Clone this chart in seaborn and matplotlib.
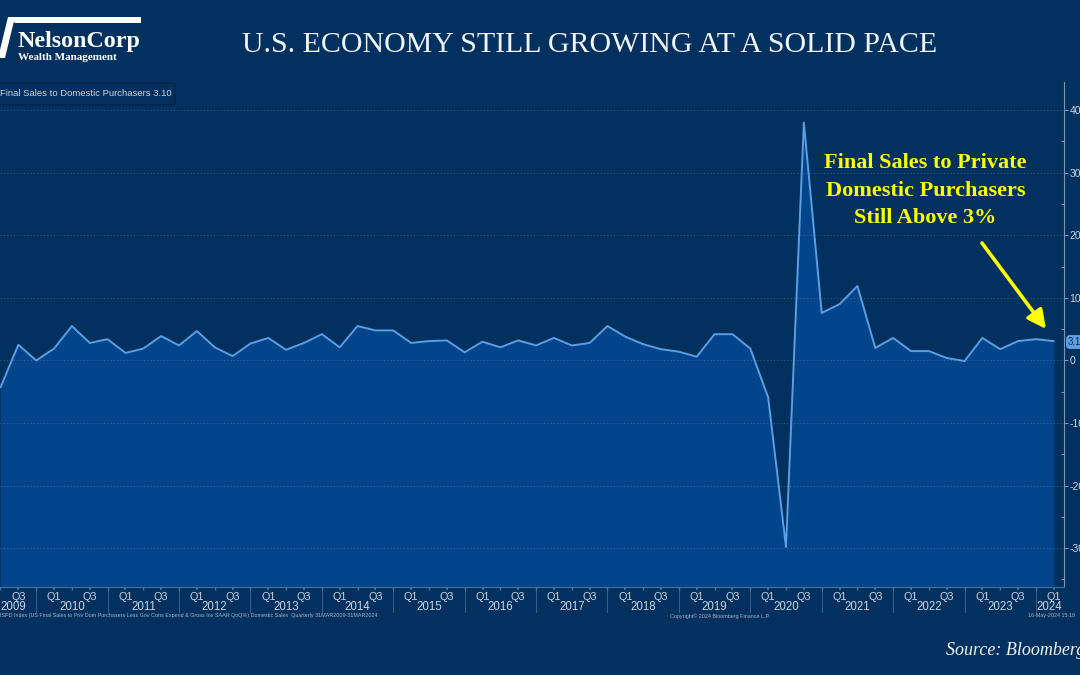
import numpy as np
import pandas as pd
import matplotlib
matplotlib.use("Agg")
import matplotlib.pyplot as plt
import matplotlib.transforms as mtrans
from matplotlib.patches import Polygon, FancyBboxPatch
import seaborn as sns

# ---------------- data ----------------
first_quarter = "2009Q2"
last_quarter = "2024Q1"
values = [
    -4.3, 2.5, 0.0,            # 2009 Q2-Q4
    1.9, 5.5, 2.8, 3.4,        # 2010
    1.2, 1.9, 3.9, 2.4,        # 2011
    4.7, 2.1, 0.7, 2.7,        # 2012
    3.6, 1.7, 2.8, 4.2,        # 2013
    2.1, 5.5, 4.8, 4.8,        # 2014
    2.8, 3.1, 3.2, 1.3,        # 2015
    3.0, 2.1, 3.2, 2.4,        # 2016
    3.6, 2.4, 2.8, 5.5,        # 2017
    3.8, 2.6, 1.8, 1.4,        # 2018
    0.6, 4.2, 4.2, 1.9,        # 2019
    -5.9, -29.8, 38.0, 7.6,    # 2020
    9.0, 11.9, 2.0, 3.6,       # 2021
    1.5, 1.5, 0.4, -0.1,       # 2022
    3.6, 1.8, 3.1, 3.4,        # 2023
    3.1,                       # 2024 Q1
]
year_labels = [str(y) for y in range(2009, 2025)]
quarter_labels = ["Q1", "Q3"]
ytick_values = [40, 30, 20, 10, 0, -10, -20, -30]
ytick_labels = ["40", "30", "20", "10", "0", "-10", "-20", "-30"]
last_value_label = "3.10"

title = "U.S. ECONOMY STILL GROWING AT A SOLID PACE"
annotation_lines = ["Final Sales to Private", "Domestic Purchasers", "Still Above 3%"]
legend_text = "Final Sales to Domestic Purchasers 3.10"
footnote_left = ("ISPD Index (US Final Sales to Priv Dom Purchasers Less Gov Cons Expend & Gross Inv "
                 "SAAR QoQ%) Domestic Sales  Quarterly 31MAR2009-31MAR2024")
footnote_mid = "Copyright\u00a9 2024 Bloomberg Finance L.P."
footnote_right = "16-May-2024 15:18"
source_text = "Source: Bloomberg"

# ---------------- styling ----------------
BG = "#02315f"
FILL = "#03458a"
LINE = "#5c9ee3"
TXT = "#c9d3df"
SPINE = "#7f95b0"

sns.set_theme(style="dark")
plt.rcParams["font.family"] = ["Liberation Sans", "DejaVu Sans"]

periods = pd.period_range(first_quarter, last_quarter, freq="Q")
t = np.array([p.year + p.quarter / 4.0 for p in periods])
df = pd.DataFrame({"t": t, "value": values})

W, H = 1080, 675
fig = plt.figure(figsize=(W / 100, H / 100), dpi=100)
fig.patch.set_facecolor(BG)

ax_top_px, ax_bot_px, ax_right_px = 82, 587, 1064
ax = fig.add_axes([0, 1 - ax_bot_px / H, ax_right_px / W, (ax_bot_px - ax_top_px) / H])
ax.set_facecolor(BG)

XMIN, XMAX = 2009.493, 2024.393
YMIN, YMAX = -36.2, 44.5

ax.fill_between(df["t"], df["value"], YMIN, color=FILL, lw=0, zorder=1)
sns.lineplot(data=df, x="t", y="value", ax=ax, color=LINE, lw=1.4, zorder=3)

ax.set_xlim(XMIN, XMAX)
ax.set_ylim(YMIN, YMAX)
ax.set_xlabel("")
ax.set_ylabel("")

# y axis on right
ax.yaxis.tick_right()
ax.set_yticks(ytick_values, ytick_labels)
ax.set_yticks(np.arange(-35, 40, 10), minor=True)
ax.tick_params(axis="y", which="major", colors=TXT, labelsize=7.5, length=3, pad=1,
               direction="out", color=SPINE, width=0.8)
ax.tick_params(axis="y", which="minor", length=2, direction="in", color=SPINE, width=0.8,
               left=False, right=True)
ax.set_axisbelow(False)
ax.grid(axis="y", which="major", color="#7f9cc2", alpha=0.35, ls=(0, (1, 2)), lw=0.8)
ax.grid(axis="x", visible=False)

for s in ["top", "left"]:
    ax.spines[s].set_visible(False)
ax.spines["right"].set_color(SPINE)
ax.spines["right"].set_linewidth(0.8)
ax.spines["bottom"].set_color("#4f6f96")
ax.spines["bottom"].set_linewidth(0.8)

# x axis: Q1 / Q3 labels
years = list(range(2009, 2025))
qpos, qlab = [], []
for y in years:
    for q, lab in zip([0.25, 0.75], quarter_labels):
        if XMIN <= y + q <= XMAX:
            qpos.append(y + q)
            qlab.append(lab)
ax.set_xticks(qpos, qlab)
ax.set_xticks([y + q for y in years for q in (0.0, 0.25, 0.5, 0.75)
               if XMIN <= y + q <= XMAX], minor=True)
ax.tick_params(axis="x", which="major", colors=TXT, labelsize=7.8, length=2, pad=1.5,
               color="#4f6f96", bottom=True)
ax.tick_params(axis="x", which="minor", length=2, color="#4f6f96", bottom=True)

trans = mtrans.blended_transform_factory(ax.transData, ax.transAxes)
ax_h = ax_bot_px - ax_top_px
for y, lab in zip(years, year_labels):
    if y == years[0]:
        ax.text(XMIN, -19.5 / ax_h, lab, transform=trans, ha="left", va="center",
                color=TXT, fontsize=8.3)
    elif y == years[-1]:
        ax.text(XMAX - 0.02, -19.5 / ax_h, lab, transform=trans, ha="right", va="center",
                color=TXT, fontsize=8.3)
    else:
        ax.text(y + 0.5, -19.5 / ax_h, lab, transform=trans, ha="center", va="center",
                color=TXT, fontsize=8.3)
    if y != years[0]:
        ax.plot([y, y], [0, -25 / ax_h], transform=trans, clip_on=False,
                color="#3e5f88", lw=0.7)


def fx(x):
    return x / W


def fy(y):
    return 1 - y / H


# last value tag
fig.text(fx(1068), fy(342), last_value_label, ha="left", va="center", fontsize=7,
         color="#0b2a52",
         bbox=dict(boxstyle="round,pad=0.2,rounding_size=0.4", fc=LINE, ec="none"))

# title
fig.text(fx(590), fy(52), title, ha="center", va="baseline", fontsize=21.5,
         family=["Liberation Serif"], color="#f2f4f8")

# logo
fig.add_artist(Polygon([[fx(8), fy(17)], [fx(141), fy(17)], [fx(141), fy(23)], [fx(15), fy(23)]],
                       closed=True, transform=fig.transFigure, fc="white", ec="none"))
fig.add_artist(Polygon([[fx(8), fy(17)], [fx(15), fy(17)], [fx(5), fy(58)], [fx(-2), fy(58)]],
                       closed=True, transform=fig.transFigure, fc="white", ec="none"))
fig.text(fx(18), fy(47), "NelsonCorp", ha="left", va="baseline", fontsize=17.3,
         family=["Liberation Serif"], weight="bold", color="white")
fig.text(fx(18), fy(59.5), "Wealth Management", ha="left", va="baseline", fontsize=8,
         family=["Liberation Serif"], weight="bold", color="white")

# legend box
fig.add_artist(FancyBboxPatch((fx(-6), fy(105)), fx(181), (105 - 83) / H,
                              boxstyle="round,pad=0,rounding_size=0.004",
                              transform=fig.transFigure, fc=BG, ec="#0a2446", lw=1.2))
fig.text(fx(0), fy(94), legend_text, ha="left", va="center", fontsize=6.8, color=TXT)

# annotation
for line, base in zip(annotation_lines, [168.3, 196.0, 222.7]):
    fig.text(fx(925.5), fy(base), line, ha="center", va="baseline", fontsize=16,
             family=["Liberation Serif"], weight="bold", color="#ffff00")
ax.annotate("", xy=(1046, H - 329), xycoords="figure pixels",
            xytext=(982, H - 243), textcoords="figure pixels",
            arrowprops=dict(arrowstyle="-|>,head_length=0.8,head_width=0.4",
                            color="#ffff00", lw=2.6, mutation_scale=14,
                            shrinkA=0, shrinkB=0))

# footnotes
fig.text(fx(0), fy(616), footnote_left, ha="left", va="center", fontsize=3.9, color="#a7b5c8")
fig.text(fx(720), fy(616), footnote_mid, ha="center", va="center", fontsize=3.9, color="#a7b5c8")
fig.text(fx(1028), fy(616), footnote_right, ha="left", va="center", fontsize=3.9, color="#a7b5c8")

# source
fig.text(fx(946), fy(655), source_text, ha="left", va="baseline", fontsize=13,
         family=["Liberation Serif"], style="italic", color="#f2f4f8")

fig.savefig("out.png", dpi=100, facecolor=BG)
